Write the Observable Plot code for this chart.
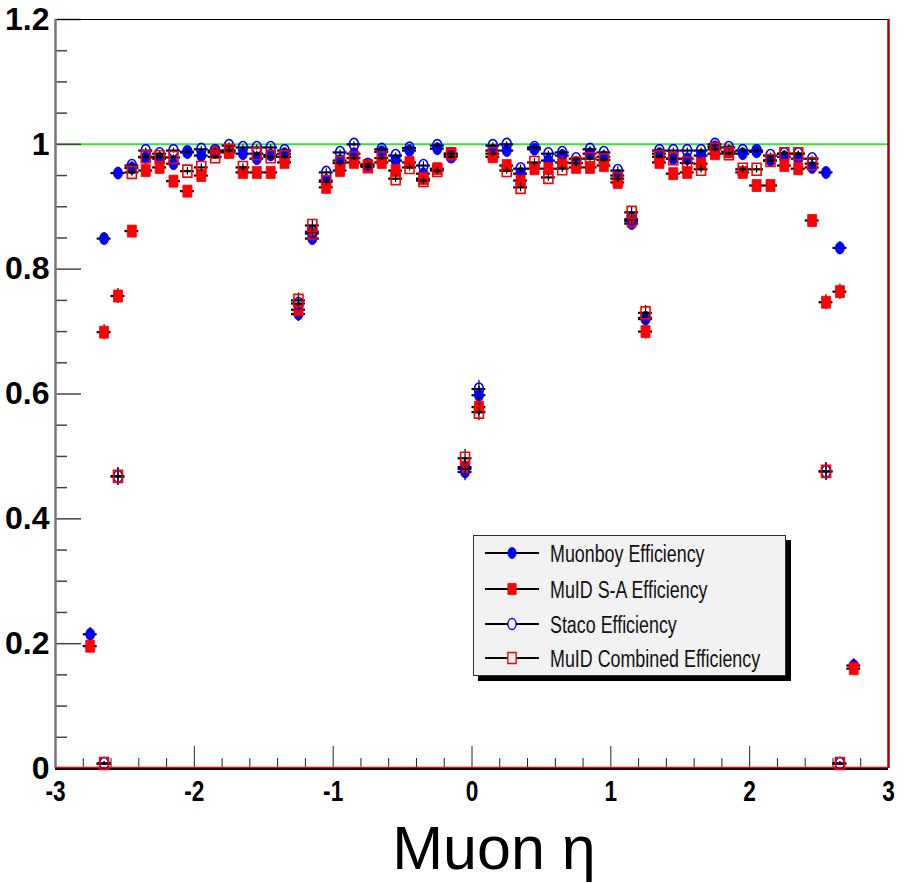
<!DOCTYPE html>
<html><head><meta charset="utf-8">
<script src="https://cdn.jsdelivr.net/npm/d3@7"></script>
<script src="https://cdn.jsdelivr.net/npm/@observablehq/plot@0.6"></script>
<style>
body{margin:0;background:#fff;}
#wrap{position:relative;width:904px;height:883px;overflow:hidden;}
#legend{position:absolute;left:473px;top:535px;width:313px;height:141px;box-sizing:border-box;background:#f2f2f2;border:1.5px solid #333;box-shadow:5px 5px 0 #000;}
.entry{position:absolute;left:0;height:30px;width:310px;}
.entry svg{position:absolute;left:9px;top:0;}
.entry span{position:absolute;left:76px;top:1px;font-family:"Liberation Sans",Arial,sans-serif;font-size:23.5px;color:#111;white-space:nowrap;transform:scaleX(0.76);transform-origin:0 50%;line-height:28px;}
</style></head><body><div id="wrap"></div>
<script>
// ---------- data ----------
const eta = [-2.75,-2.65,-2.55,-2.45,-2.35,-2.25,-2.15,-2.05,-1.95,-1.85,-1.75,-1.65,-1.55,-1.45,-1.35,-1.25,-1.15,-1.05,-0.95,-0.85,-0.75,-0.65,-0.55,-0.45,-0.35,-0.25,-0.15,-0.05,
             0.05,0.15,0.25,0.35,0.45,0.55,0.65,0.75,0.85,0.95,1.05,1.15,1.25,1.35,1.45,1.55,1.65,1.75,1.85,1.95,2.05,2.15,2.25,2.35,2.45,2.55,2.65,2.75];
const binHalfWidth = 0.05;

const muonboy = [0.215,0.849,0.954,0.962,0.979,0.977,0.969,0.987,0.982,0.988,0.990,0.985,0.977,0.983,0.985,0.728,0.849,0.942,0.974,0.985,0.966,0.988,0.974,0.990,0.953,0.993,0.982,0.475,
                 0.598,0.990,0.990,0.953,0.992,0.974,0.982,0.970,0.985,0.980,0.950,0.873,0.720,0.985,0.977,0.977,0.982,0.996,0.988,0.985,0.988,0.974,0.980,0.977,0.963,0.955,0.834,0.165];
const muidSA = [0.196,0.699,0.757,0.861,0.958,0.963,0.941,0.925,0.950,0.987,0.987,0.955,0.955,0.955,0.971,0.735,0.857,0.931,0.958,0.971,0.966,0.971,0.958,0.971,0.945,0.961,0.985,0.483,
                0.579,0.980,0.966,0.942,0.961,0.961,0.971,0.963,0.963,0.966,0.939,0.877,0.700,0.971,0.953,0.955,0.969,0.985,0.988,0.955,0.934,0.934,0.966,0.961,0.878,0.747,0.764,0.160];
const staco = [null,0.008,0.468,0.966,0.990,0.985,0.990,0.988,0.992,0.990,0.998,0.995,0.995,0.995,0.990,0.745,0.860,0.955,0.987,1.000,0.968,0.992,0.982,0.994,0.966,0.998,0.980,0.480,
               0.608,0.998,1.000,0.961,0.995,0.985,0.987,0.977,0.992,0.987,0.958,0.880,0.722,0.990,0.990,0.990,0.990,1.000,0.995,0.990,0.990,0.982,0.985,0.985,0.977,0.476,0.008,null];
const muidComb = [null,0.008,0.468,0.955,0.980,0.980,0.979,0.957,0.963,0.980,0.990,0.963,0.985,0.980,0.980,0.750,0.870,0.940,0.970,0.978,0.964,0.978,0.945,0.963,0.942,0.958,0.985,0.497,
                  0.571,0.985,0.958,0.931,0.971,0.947,0.961,0.970,0.977,0.975,0.945,0.891,0.730,0.980,0.977,0.970,0.960,0.992,0.985,0.960,0.960,0.974,0.985,0.985,0.969,0.476,0.008,null];

const errMuonboy = [0.011,0.009,0.006,0.006,0.004,0.004,0.006,0.004,0.004,0.004,0.004,0.004,0.004,0.004,0.004,0.012,0.009,0.006,0.006,0.004,0.006,0.004,0.006,0.004,0.006,0.004,0.004,0.014,
                    0.014,0.004,0.004,0.006,0.004,0.006,0.004,0.006,0.004,0.004,0.006,0.009,0.012,0.004,0.004,0.004,0.004,0.004,0.004,0.004,0.004,0.006,0.004,0.004,0.006,0.006,0.010,0.011];
const errMuidSA = [0.011,0.012,0.012,0.009,0.006,0.006,0.006,0.007,0.006,0.004,0.004,0.006,0.006,0.006,0.006,0.012,0.009,0.007,0.006,0.006,0.006,0.006,0.006,0.006,0.006,0.006,0.004,0.014,
                   0.014,0.004,0.006,0.006,0.006,0.006,0.006,0.006,0.006,0.006,0.006,0.009,0.012,0.006,0.006,0.006,0.006,0.004,0.004,0.006,0.006,0.006,0.006,0.006,0.009,0.012,0.012,0.010];
const errStaco = [null,0.003,0.014,0.006,0.004,0.004,0.004,0.004,0.004,0.004,0.004,0.004,0.004,0.004,0.004,0.012,0.009,0.006,0.004,0.004,0.006,0.004,0.004,0.004,0.006,0.004,0.004,0.014,
                  0.014,0.004,0.004,0.006,0.004,0.004,0.004,0.004,0.004,0.004,0.006,0.009,0.012,0.004,0.004,0.004,0.004,0.004,0.004,0.004,0.004,0.004,0.004,0.004,0.004,0.014,0.003,null];
const errMuidComb = [null,0.003,0.014,0.006,0.004,0.004,0.004,0.006,0.006,0.004,0.004,0.006,0.004,0.004,0.004,0.012,0.009,0.006,0.006,0.004,0.006,0.004,0.006,0.006,0.006,0.006,0.004,0.014,
                     0.014,0.004,0.006,0.007,0.006,0.006,0.006,0.006,0.004,0.004,0.006,0.009,0.012,0.004,0.004,0.006,0.006,0.004,0.004,0.006,0.006,0.006,0.004,0.004,0.006,0.014,0.003,null];

const seriesNames = ["Muonboy Efficiency","MuID S-A Efficiency","Staco Efficiency","MuID Combined Efficiency"];
const yMajorTicks = [0,0.2,0.4,0.6,0.8,1,1.2];
const yMinorTicks = [0.05,0.1,0.15,0.25,0.3,0.35,0.45,0.5,0.55,0.65,0.7,0.75,0.85,0.9,0.95,1.05,1.1,1.15];
const xMajorTicks = [-3,-2,-1,0,1,2,3];
const xMinorTicks = [-2.8,-2.6,-2.4,-2.2,-1.8,-1.6,-1.4,-1.2,-0.8,-0.6,-0.4,-0.2,0.2,0.4,0.6,0.8,1.2,1.4,1.6,1.8,2.2,2.4,2.6,2.8];
const xTitle = "Muon \u03b7";
const reference = 1;

// ---------- layout ----------
const W = 904, H = 883, mL = 55, mR = 16, mT = 19, mB = 115;
const innerW = W - mL - mR, innerH = H - mT - mB;

// marker shapes (ROOT markers, drawn slightly taller than wide as in the picture)
const K = 0.5523;
const ellipse = {draw(ctx, size){ const r = Math.sqrt(size/Math.PI), rx = r*0.75, ry = r;
  ctx.moveTo(rx,0); ctx.bezierCurveTo(rx,ry*K,rx*K,ry,0,ry); ctx.bezierCurveTo(-rx*K,ry,-rx,ry*K,-rx,0);
  ctx.bezierCurveTo(-rx,-ry*K,-rx*K,-ry,0,-ry); ctx.bezierCurveTo(rx*K,-ry,rx,-ry*K,rx,0); ctx.closePath(); }};
const box = {draw(ctx, size){ const r = Math.sqrt(size/Math.PI), rx = r*0.75, ry = r;
  ctx.moveTo(-rx,-ry); ctx.lineTo(rx,-ry); ctx.lineTo(rx,ry); ctx.lineTo(-rx,ry); ctx.closePath(); }};

const series = [
  {name: seriesNames[0], values: muonboy, err: errMuonboy, symbol: ellipse, fill: "#0000ff", stroke: "#0000ff"},
  {name: seriesNames[1], values: muidSA, err: errMuidSA, symbol: box, fill: "#ff0000", stroke: "#ff0000"},
  {name: seriesNames[2], values: staco, err: errStaco, symbol: ellipse, fill: "none", stroke: "#0000ff"},
  {name: seriesNames[3], values: muidComb, err: errMuidComb, symbol: box, fill: "none", stroke: "#ff0000"}
];

const seriesMarks = series.flatMap(s => {
  const rows = eta.map((e,i) => ({eta: e, v: s.values[i], err: s.err[i]})).filter(d => d.v != null);
  return [
    Plot.ruleY(rows, {y: "v", x1: d => d.eta - binHalfWidth, x2: d => d.eta + binHalfWidth, stroke: "black", strokeWidth: 2.2}),
    Plot.ruleX(rows, {x: "eta", y1: d => d.v - d.err, y2: d => d.v + d.err, stroke: "black", strokeWidth: 1.2}),
    Plot.dot(rows, {x: "eta", y: "v", symbol: s.symbol, r: 6, fill: s.fill, stroke: s.stroke, strokeWidth: s.fill === "none" ? 1.6 : 0.8})
  ];
});

const fontStack = "'Liberation Sans', Arial, sans-serif";

const chart = Plot.plot({
  width: W, height: H, marginLeft: mL, marginRight: mR, marginTop: mT, marginBottom: mB,
  x: {domain: [-3, 3]},
  y: {domain: [0, 1.2]},
  style: {background: "white", color: "black"},
  marks: [
    Plot.ruleY([reference], {stroke: "#3ee03e", strokeWidth: 2}),
    Plot.tickY(yMinorTicks, {y: d => d, insetRight: innerW - 12, stroke: "#444", strokeWidth: 1.5}),
    Plot.tickY(yMajorTicks, {y: d => d, insetRight: innerW - 26, stroke: "#444", strokeWidth: 1.5}),
    Plot.tickX(xMinorTicks, {x: d => d, insetTop: innerH - 10, stroke: "#222", strokeWidth: 1}),
    Plot.tickX(xMajorTicks, {x: d => d, insetTop: innerH - 22, stroke: "#222", strokeWidth: 1}),
    Plot.ruleY([1.2], {stroke: "black", strokeWidth: 1}),
    Plot.ruleX([-3], {stroke: "#777", strokeWidth: 2.5}),
    Plot.ruleX([3], {stroke: "#aa0000", strokeWidth: 2.5}),
    Plot.ruleY([0], {stroke: "black", strokeWidth: 3}),
    Plot.ruleY([0], {stroke: "#ff0000", strokeWidth: 1.5, dy: -1}),
    Plot.axisY(yMajorTicks, {tickSize: 0, tickPadding: 6, tickFormat: d => String(d), label: null,
      fontSize: 32, fontWeight: "bold", fontFamily: fontStack, fill: "black"}),
    Plot.axisX(xMajorTicks, {tickSize: 0, tickPadding: 12, tickFormat: d => String(d), label: null,
      fontSize: 29, fontWeight: "bold", fontFamily: fontStack, fill: "black"}),
    ...seriesMarks,
    Plot.text([xTitle], {frameAnchor: "bottom", lineAnchor: "middle", dx: 22, dy: 81, fontSize: 61, fontFamily: fontStack, fill: "black"})
  ]
});

// x tick labels in the picture are condensed
d3.select(chart).selectAll('g[aria-label="x-axis tick label"] text').each(function() {
  const t = this.getAttribute("transform");
  if (t) this.setAttribute("transform", t + " scale(0.78,1)");
});

const wrap = document.getElementById("wrap");
wrap.appendChild(chart);

// ---------- legend ----------
const legend = document.createElement("div");
legend.id = "legend";
const rowTops = [3, 39, 74, 108];
series.forEach((s, i) => {
  const e = document.createElement("div");
  e.className = "entry";
  e.style.top = rowTops[i] + "px";
  const svg = d3.create("svg").attr("width", 60).attr("height", 30);
  svg.append("line").attr("x1", 2).attr("x2", 56).attr("y1", 14).attr("y2", 14).attr("stroke", "black").attr("stroke-width", 2.2);
  const p = d3.path(); s.symbol.draw(p, 5.5*5.5*Math.PI);
  svg.append("path").attr("d", p.toString()).attr("transform", "translate(29,14)")
     .attr("fill", s.fill === "none" ? "#f2f2f2" : s.fill).attr("stroke", s.stroke).attr("stroke-width", s.fill === "none" ? 1.4 : 0.8);
  e.appendChild(svg.node());
  const t = document.createElement("span");
  t.textContent = s.name;
  e.appendChild(t);
  legend.appendChild(e);
});
wrap.appendChild(legend);
</script></body></html>
